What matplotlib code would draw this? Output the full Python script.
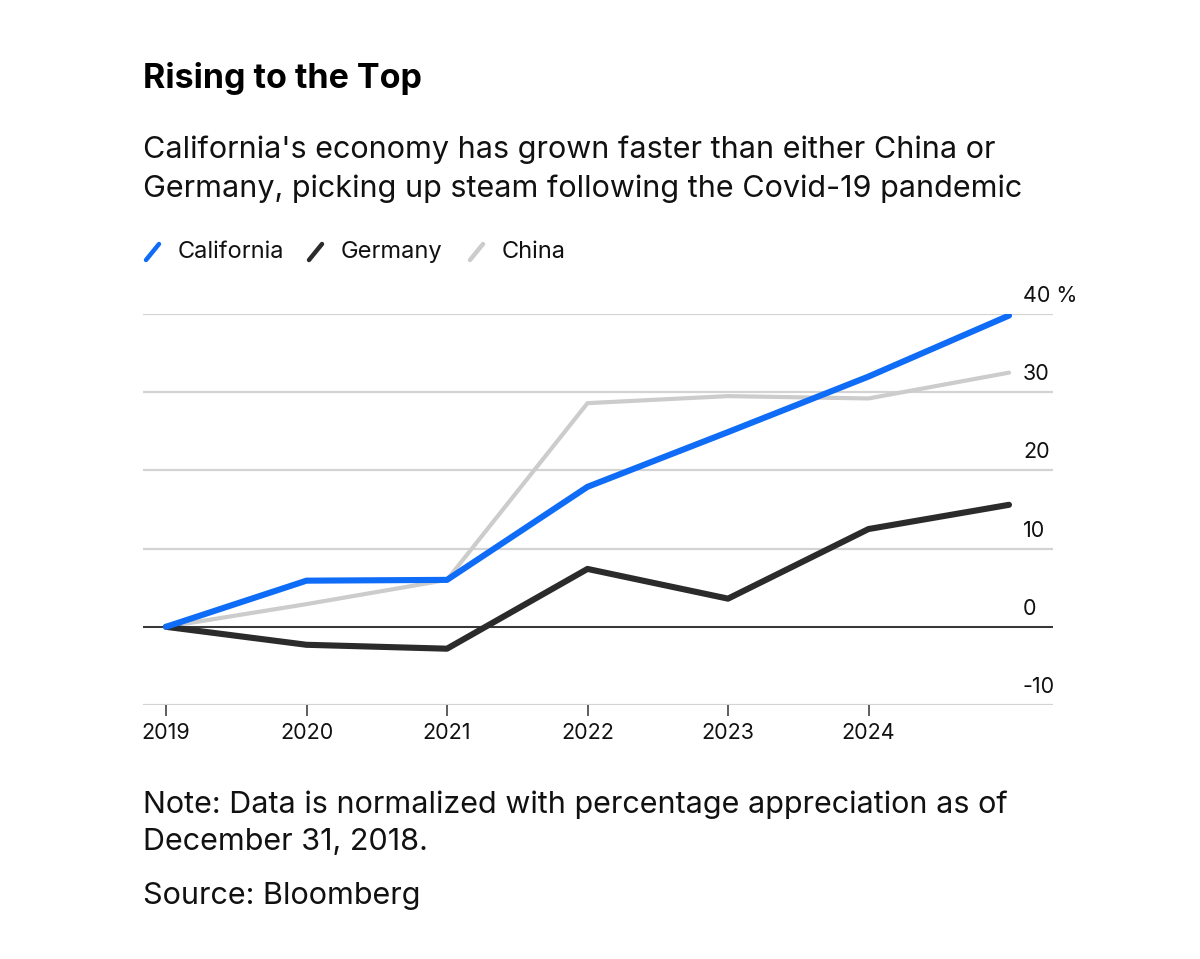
import matplotlib.pyplot as plt
import matplotlib.transforms as mtransforms
from matplotlib.lines import Line2D

years = [2019, 2020, 2021, 2022, 2023, 2024, 2025]
california = [0, 5.9, 6.0, 17.9, 24.9, 32.0, 39.8]
germany = [0, -2.3, -2.8, 7.4, 3.6, 12.5, 15.6]
china = [0, 2.9, 6.0, 28.6, 29.5, 29.2, 32.5]

x_ticks = [2019, 2020, 2021, 2022, 2023, 2024]
y_ticks = [-10, 0, 10, 20, 30, 40]
y_labels = ['-10', '0', '10', '20', '30', '40 %']

blue = '#0f6cf7'
dark = '#2b2b2b'
grey = '#cccccc'

plt.rcParams['font.family'] = ['Inter', 'DejaVu Sans']

W, H = 1200, 959
fig = plt.figure(figsize=(W / 100, H / 100), dpi=100)

def px(x, y):
    return x / W, 1 - y / H

# axes box in pixels: x 143..1053, y(-10)=705, y(40)=314
ax = fig.add_axes([143 / W, (H - 705) / H, 910 / W, (705 - 314) / H])
ax.set_xlim(2019 - 23 / 140.5, 2025 + 44 / 140.5)
ax.set_ylim(-10, 40)

ax.plot(years, china, color=grey, lw=3.0, solid_capstyle='round', solid_joinstyle='round', zorder=3)
ax.plot(years, germany, color=dark, lw=4.4, solid_capstyle='round', solid_joinstyle='round', zorder=4)
ax.plot(years, california, color=blue, lw=4.4, solid_capstyle='round', solid_joinstyle='round', zorder=5)

for s in ax.spines.values():
    s.set_visible(False)
ax.set_yticks(y_ticks)
ax.yaxis.grid(True, color='#d3d3d3', lw=1.6)
ax.set_axisbelow(True)
ax.tick_params(axis='y', length=0, labelleft=False)
ax.axhline(0, color='#1a1a1a', lw=1.2, zorder=2)

ax.set_xticks(x_ticks)
ax.set_xticklabels([str(y) for y in x_ticks])
ax.tick_params(axis='x', length=8, width=1.1, color='#333333', pad=5, labelsize=15.5, labelcolor='#111111')

# y labels sitting above gridlines, left aligned
trans = mtransforms.offset_copy(ax.get_yaxis_transform(), fig=fig, x=0, y=8.6, units='points')
for v, lab in zip(y_ticks, y_labels):
    ax.text((1023 - 143) / 910, v, lab, transform=trans, ha='left', va='baseline',
            fontsize=15.5, color='#111111')

# titles
fig.text(*px(143, 88), 'Rising to the Top', fontsize=24.5, fontweight='bold', va='baseline', color='#000000')
fig.text(*px(143, 158), "California's economy has grown faster than either China or",
         fontsize=22, va='baseline', color='#111111')
fig.text(*px(143, 197), 'Germany, picking up steam following the Covid-19 pandemic',
         fontsize=22, va='baseline', color='#111111')

# legend
legend_items = [('California', blue, 146), ('Germany', dark, 309), ('China', grey, 470)]
for name, col, x0 in legend_items:
    fig.add_artist(Line2D([x0 / W, (x0 + 13) / W], [1 - 260 / H, 1 - 244 / H],
                          color=col, lw=3.2, solid_capstyle='round', transform=fig.transFigure))
    fig.text(*px(x0 + 32, 258), name, fontsize=17, va='baseline', color='#111111')

# notes
fig.text(*px(143, 813), 'Note: Data is normalized with percentage appreciation as of',
         fontsize=22, va='baseline', color='#111111')
fig.text(*px(143, 850), 'December 31, 2018.', fontsize=22, va='baseline', color='#111111')
fig.text(*px(143, 904), 'Source: Bloomberg', fontsize=22, va='baseline', color='#111111')

fig.savefig('out.png', dpi=100, facecolor='white')
